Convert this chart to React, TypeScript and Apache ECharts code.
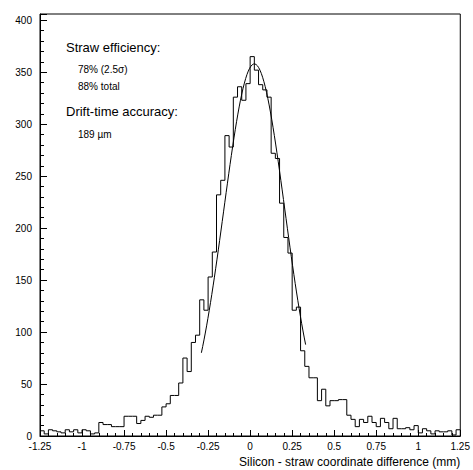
import React, { useEffect, useRef } from "react";
import * as echarts from "echarts";

const binLow = -1.25;
const binWidth = 0.025;
const counts = [
  5, 2, 6, 5, 4, 3, 6, 4, 6, 3, 6, 5, 2, 3, 13, 11, 11, 9, 9, 9,
  19, 19, 19, 12, 15, 19, 18, 20, 20, 28, 31, 39, 39, 51, 75, 62, 90, 97, 131, 121,
  153, 177, 232, 246, 289, 278, 326, 336, 323, 339, 365, 352, 338, 333, 326, 272, 267, 224, 191, 176,
  121, 124, 82, 67, 56, 56, 34, 45, 29, 34, 34, 35, 35, 20, 16, 9, 16, 13, 19, 13,
  9, 17, 13, 7, 17, 7, 7, 8, 6, 10, 3, 7, 5, 2, 5, 4, 4, 5, 1, 6,
];
// Gaussian fit parameters: amplitude, mean, sigma, range
const fitAmp = [358];
const fitMean = [0.025];
const fitSigma = [0.182];
const fitRange = [-0.29, 0.33];

const xTicks = ["-1.25", "-1", "-0.75", "-0.5", "-0.25", "0", "0.25", "0.5", "0.75", "1", "1.25"];

export default function App() {
  const ref = useRef<HTMLDivElement>(null);
  useEffect(() => {
    const chart = echarts.init(ref.current!, null, { renderer: "svg" });
    const hist: number[][] = [];
    counts.forEach((v, i) => {
      const lo = binLow + i * binWidth;
      hist.push([lo, v], [lo + binWidth, v]);
    });
    const fit: number[][] = [];
    const n = 80;
    for (let k = 0; k <= n; k++) {
      const x = fitRange[0] + ((fitRange[1] - fitRange[0]) * k) / n;
      fit.push([x, fitAmp[0] * Math.exp(-((x - fitMean[0]) ** 2) / (2 * fitSigma[0] ** 2))]);
    }
    const font = "Liberation Sans, Arial, sans-serif";
    chart.setOption({
      animation: false,
      grid: { left: 40, right: 8, top: 14, bottom: 34, show: true, borderColor: "#000", borderWidth: 1 },
      xAxis: {
        type: "value", min: -1.25, max: 1.25, interval: 0.25,
        axisLine: { onZero: false, lineStyle: { color: "#000" } },
        axisTick: { inside: true, length: 6, lineStyle: { color: "#000" } },
        minorTick: { show: true, splitNumber: 5, length: 3, lineStyle: { color: "#000" } },
        splitLine: { show: false },
        axisLabel: { color: "#000", fontSize: 10, fontFamily: font, margin: 5,
          formatter: (v: number) => xTicks[Math.round((v + 1.25) / 0.25)] ?? "" },
        name: "Silicon - straw coordinate difference (mm)",
        nameLocation: "end", nameGap: 0,
        nameTextStyle: { color: "#000", fontSize: 12, fontFamily: font, align: "right", verticalAlign: "top", padding: [20, 0, 0, 0] },
      },
      yAxis: {
        type: "value", min: 0, max: 406, interval: 50,
        axisLine: { show: true, onZero: false, lineStyle: { color: "#000" } },
        axisTick: { show: true, inside: true, length: 7, lineStyle: { color: "#000" } },
        minorTick: { show: true, splitNumber: 5, length: 4, lineStyle: { color: "#000" } },
        splitLine: { show: false },
        axisLabel: { color: "#000", fontSize: 10, fontFamily: font, margin: 8,
          formatter: (v: number) => (v % 50 === 0 && v <= 400 ? String(v) : "") },
      },
      series: [
        { type: "line", data: hist, showSymbol: false, lineStyle: { color: "#000", width: 1 } },
        { type: "line", data: fit, showSymbol: false, smooth: false, lineStyle: { color: "#000", width: 1 } },
      ],
      graphic: [
        { type: "text", left: 66, top: 41, style: { text: "Straw efficiency:", fontSize: 13, fontFamily: font, fill: "#000" } },
        { type: "text", left: 78, top: 64, style: { text: "78% (2.5σ)", fontSize: 10, fontFamily: font, fill: "#000" } },
        { type: "text", left: 78, top: 81, style: { text: "88% total", fontSize: 10, fontFamily: font, fill: "#000" } },
        { type: "text", left: 66, top: 105, style: { text: "Drift-time accuracy:", fontSize: 13, fontFamily: font, fill: "#000" } },
        { type: "text", left: 78, top: 129, style: { text: "189 µm", fontSize: 10, fontFamily: font, fill: "#000" } },
      ],
    });
    return () => chart.dispose();
  }, []);
  return <div ref={ref} style={{ width: 473, height: 470, position: "absolute", left: 0, top: 0, background: "#fff" }} />;
}
